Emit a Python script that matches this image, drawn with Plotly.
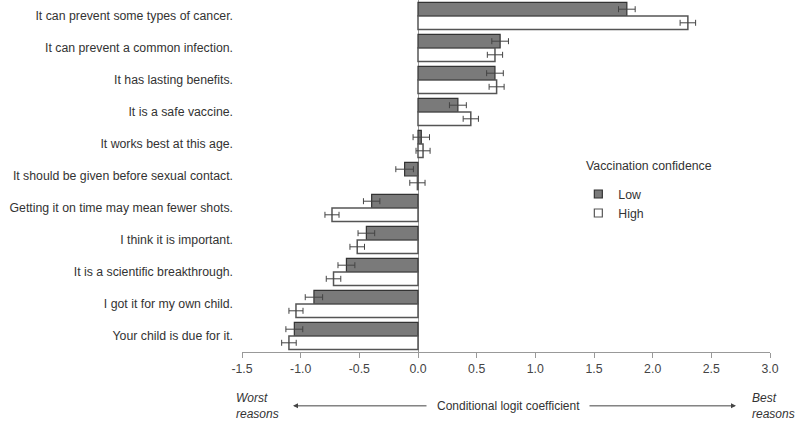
import plotly.graph_objects as go

# Razones (de arriba a abajo)
razones = [
    "It can prevent some types of cancer.",
    "It can prevent a common infection.",
    "It has lasting benefits.",
    "It is a safe vaccine.",
    "It works best at this age.",
    "It should be given before sexual contact.",
    "Getting it on time may mean fewer shots.",
    "I think it is important.",
    "It is a scientific breakthrough.",
    "I got it for my own child.",
    "Your child is due for it.",
]

coef_low = [1.78, 0.70, 0.656, 0.34, 0.028, -0.114, -0.395, -0.44, -0.61, -0.887, -1.054]
err_low = [0.071, 0.071, 0.071, 0.072, 0.07, 0.075, 0.07, 0.071, 0.072, 0.074, 0.072]

coef_high = [2.30, 0.656, 0.67, 0.45, 0.043, -0.005, -0.733, -0.518, -0.72, -1.04, -1.10]
err_high = [0.066, 0.065, 0.064, 0.065, 0.06, 0.065, 0.06, 0.062, 0.062, 0.06, 0.062]

# Marcas del eje x (con guion normal como en el original)
ticks_x = [-1.5, -1.0, -0.5, 0.0, 0.5, 1.0, 1.5, 2.0, 2.5, 3.0]
etiquetas_x = ["-1.5", "-1.0", "-0.5", "0.0", "0.5", "1.0", "1.5", "2.0", "2.5", "3.0"]

estilos = {
    "Low": dict(fill="#7a7a7a", borde="#333333", ancho=1.2),
    "High": dict(fill="#ffffff", borde="#555555", ancho=1.5),
}

fig = go.Figure()

for nombre, coef, err in [("Low", coef_low, err_low), ("High", coef_high, err_high)]:
    e = estilos[nombre]
    fig.add_trace(go.Bar(
        y=razones, x=coef, orientation="h", name=nombre, legendgroup=nombre,
        showlegend=False,
        marker=dict(color=e["fill"], line=dict(color=e["borde"], width=e["ancho"])),
        error_x=dict(type="data", array=err, color="#444444", thickness=1, width=3),
    ))
    # Entrada de leyenda con cuadrado pequeño
    fig.add_trace(go.Scatter(
        x=[None], y=[None], mode="markers", name=nombre, legendgroup=nombre,
        marker=dict(symbol="square", size=8, color=e["fill"],
                    line=dict(color=e["borde"], width=1.2)),
    ))

# Ejes y diseño
fig.update_layout(
    width=800, height=423,
    margin=dict(l=242, r=30, t=0, b=71),
    plot_bgcolor="white", paper_bgcolor="white",
    font=dict(family="Liberation Sans, Arial, sans-serif", size=12, color="#333333"),
    barmode="group", bargap=0.15, bargroupgap=0,
    xaxis=dict(
        range=[-1.5, 3.0], tickvals=ticks_x, ticktext=etiquetas_x,
        showgrid=False, zeroline=True, zerolinecolor="#999999", zerolinewidth=1,
        showline=True, linecolor="#999999", linewidth=1,
        ticks="outside", tickcolor="#999999", ticklen=5,
        tickfont=dict(color="#444444", size=12.3), automargin=False,
    ),
    yaxis=dict(
        autorange="reversed", showgrid=False, zeroline=False, showline=False,
        ticks="", ticklabelstandoff=8, automargin=False,
        tickfont=dict(size=12.3),
    ),
    legend=dict(
        x=0.637, y=0.49, xanchor="left", yanchor="top",
        traceorder="normal", bgcolor="rgba(0,0,0,0)", font=dict(size=12.3),
        tracegroupgap=0,
    ),
)

fig.add_annotation(text="Vaccination confidence", xref="paper", yref="paper",
                   x=0.648, y=0.529, xanchor="left", yanchor="middle",
                   showarrow=False, font=dict(size=12.3))

# Texto y flechas bajo el eje
fig.add_annotation(text="<i>Worst<br>reasons</i>", xref="paper", yref="paper",
                   x=-0.015, y=-0.152, xanchor="left", yanchor="middle",
                   align="left", showarrow=False)
fig.add_annotation(text="<i>Best<br>reasons</i>", xref="paper", yref="paper",
                   x=0.962, y=-0.152, xanchor="left", yanchor="middle",
                   align="left", showarrow=False)
fig.add_annotation(text="Conditional logit coefficient", xref="paper", yref="paper",
                   x=0.505, y=-0.153, xanchor="center", yanchor="middle",
                   showarrow=False)
fig.add_annotation(text="", xref="paper", yref="paper", x=0.0966, y=-0.153,
                   ax=135, ay=0, showarrow=True, arrowhead=2, arrowsize=1,
                   arrowwidth=1, arrowcolor="#444444")
fig.add_annotation(text="", xref="paper", yref="paper", x=0.9356, y=-0.153,
                   ax=-148, ay=0, showarrow=True, arrowhead=2, arrowsize=1,
                   arrowwidth=1, arrowcolor="#444444")

fig.write_html("out.html", config={"displayModeBar": False},
               post_script="document.body.style.margin='0';")
